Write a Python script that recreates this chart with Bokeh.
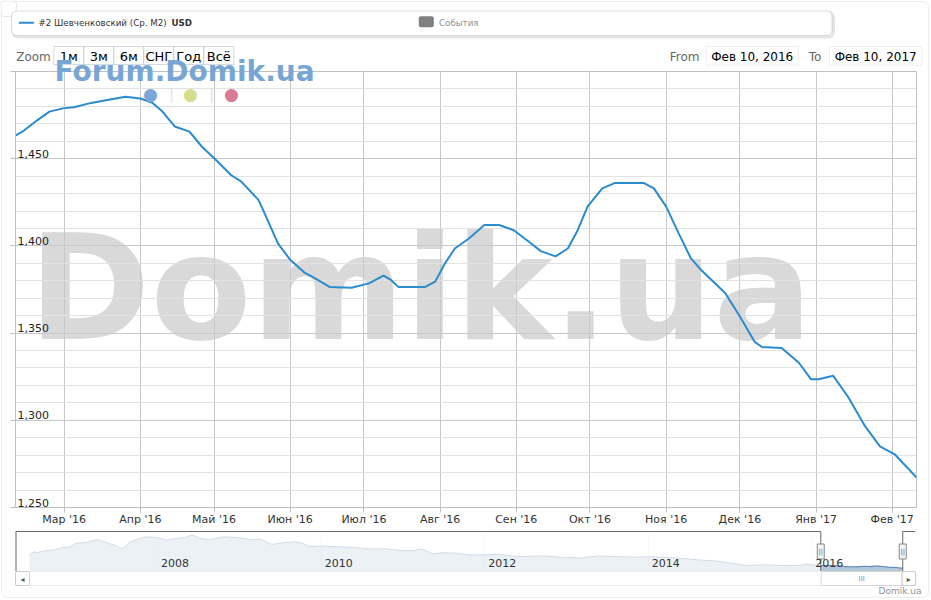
import pandas as pd
from bokeh.plotting import figure
from bokeh.layouts import column
from bokeh.models import (Range1d, FixedTicker, SingleIntervalTicker, CustomJSTickFormatter,
                          Label, LabelSet, ColumnDataSource, BoxAnnotation, Grid, LinearAxis)
from bokeh.core.properties import value
from bokeh.embed import file_html
from bokeh.resources import INLINE

FONT = "DejaVu Sans"
SERIES_COLOR = "#2a8bcf"
NAV_COLOR = "#4572A7"

# ---------------- data ----------------
SERIES_NAME = "#2 Шевченковский (Ср. М2)"
CURRENCY = "USD"
EVENTS_NAME = "События"
RANGE_BUTTONS = ["1м", "3м", "6м", "СНГ", "Год", "Всё"]
MONTHS_RU = ["Янв", "Фев", "Мар", "Апр", "Май", "Июн", "Июл", "Авг", "Сен", "Окт", "Ноя", "Дек"]
VIEW_FROM = "2016-02-10"
VIEW_TO = "2017-02-10"

MAIN_DATES = [
    "2016-02-06", "2016-02-13", "2016-02-19", "2016-02-24", "2016-03-01", "2016-03-05",
    "2016-03-12", "2016-03-18", "2016-03-26", "2016-04-01", "2016-04-06", "2016-04-10",
    "2016-04-15", "2016-04-21", "2016-04-26", "2016-05-02", "2016-05-08", "2016-05-12",
    "2016-05-19", "2016-05-21", "2016-05-27", "2016-06-01", "2016-06-07", "2016-06-11",
    "2016-06-17", "2016-06-26", "2016-07-03", "2016-07-09", "2016-07-12", "2016-07-15",
    "2016-07-26", "2016-07-30", "2016-08-03", "2016-08-07", "2016-08-13", "2016-08-19",
    "2016-08-25", "2016-08-31", "2016-09-06", "2016-09-11", "2016-09-17", "2016-09-22",
    "2016-09-26", "2016-09-30", "2016-10-06", "2016-10-11", "2016-10-23", "2016-10-27",
    "2016-11-01", "2016-11-06", "2016-11-11", "2016-11-15", "2016-11-25", "2016-12-01",
    "2016-12-07", "2016-12-10", "2016-12-18", "2016-12-25", "2016-12-30", "2017-01-02",
    "2017-01-08", "2017-01-14", "2017-01-21", "2017-01-27", "2017-02-02", "2017-02-11",
]
MAIN_VALUES = [
    1460, 1465.5, 1472, 1477, 1479, 1479.5,
    1482, 1483.5, 1485.5, 1484.5, 1482, 1477,
    1468.5, 1465.5, 1457, 1449, 1440.5, 1437,
    1426.5, 1420.5, 1401.5, 1392, 1384.5, 1381.5,
    1376.5, 1376, 1378.5, 1383, 1380.5, 1376.5,
    1376.5, 1379.5, 1390, 1398.5, 1404.5, 1412,
    1412, 1409, 1402.5, 1397, 1394, 1398.5,
    1409, 1422.5, 1433, 1436, 1436, 1433,
    1422.5, 1407.5, 1393, 1386.5, 1373, 1359.5,
    1345, 1342, 1341.5, 1333, 1323.5, 1323.5,
    1325.5, 1313.5, 1296.5, 1285, 1280.5, 1267,
]

HIST_DATES = [
    "2006-06-08", "2006-06-16", "2006-06-27", "2006-07-12", "2006-08-10", "2006-09-24",
    "2006-11-07", "2006-11-29", "2006-12-31", "2007-02-20", "2007-04-08", "2007-05-20",
    "2007-07-03", "2007-07-28", "2007-09-01", "2007-10-01", "2007-11-07", "2007-12-29",
    "2008-02-12", "2008-03-28", "2008-05-04", "2008-06-03", "2008-07-09", "2008-08-23",
    "2008-10-22", "2008-12-20", "2009-02-18", "2009-04-04", "2009-05-26", "2009-07-16",
    "2009-09-06", "2009-10-13", "2009-11-12", "2009-12-27", "2010-03-11", "2010-05-24",
    "2010-08-06", "2010-10-20", "2011-01-02", "2011-02-16", "2011-03-25", "2011-05-16",
    "2011-06-29", "2011-08-28", "2011-10-26", "2011-12-17", "2012-03-01", "2012-05-29",
    "2012-09-25", "2012-12-24", "2013-03-08", "2013-05-21", "2013-08-03", "2013-11-15",
    "2014-01-14", "2014-03-14", "2014-05-28", "2014-08-10", "2014-10-23", "2015-01-05",
    "2015-03-20", "2015-06-03", "2015-08-16", "2015-10-29", "2015-12-13",
]
HIST_VALUES = [
    2244, 2449, 2583, 2504, 2638, 2717,
    2922, 2898, 3237, 3316, 3552, 3292,
    3032, 2796, 3371, 3552, 3765, 3710,
    3505, 3631, 3710, 3923, 3631, 3552,
    3765, 3710, 3552, 3584, 3158, 3292,
    3371, 3237, 2977, 3032, 2977, 2922,
    2796, 2796, 2662, 2662, 2796, 2402,
    2504, 2449, 2323, 2323, 2370, 2189,
    2244, 2110, 2087, 2244, 2189, 2134,
    2189, 2134, 2055, 1929, 1850, 1661,
    1480, 1535, 1480, 1480, 1582,
]

MONTH_TICKS = ["2016-03-01", "2016-04-01", "2016-05-01", "2016-06-01", "2016-07-01",
               "2016-08-01", "2016-09-01", "2016-10-01", "2016-11-01", "2016-12-01",
               "2017-01-01", "2017-02-01"]
Y_LABEL_VALUES = [1250, 1300, 1350, 1400, 1450]
NAV_YEARS = ["2008-01-01", "2010-01-01", "2012-01-01", "2014-01-01", "2016-01-01"]

MAIN_X_START, MAIN_X_END = "2016-02-10 05:00", "2017-02-10 21:00"
MAIN_Y_START, MAIN_Y_END = 1250, 1500
NAV_X_START, NAV_X_END = "2006-04-07", "2017-04-08"

W = 931          # page width
OVL_H = 598      # overlay height
MAIN_TOP = 71    # top of the main plot area


def ts(s):
    return pd.Timestamp(s)


def ms(s):
    return int(pd.Timestamp(s).value // 10**6)


def fmt_day(s):
    d = pd.Timestamp(s)
    return f"{MONTHS_RU[d.month - 1]} {d.day}, {d.year}"


def bare(p):
    p.grid.visible = False
    p.frame_align = False
    return p


def lab(p, x, y, text, size, color, align="left", bold=False, **kw):
    p.add_layout(Label(x=x, y=y, text=text, text_align=align, text_baseline="middle",
                       text_font=FONT, text_font_size=size, text_color=color,
                       text_font_style="bold" if bold else "normal", **kw))


def box(p, l, r, t, b, fill="white", line="#909090", radius=0, **kw):
    p.add_layout(BoxAnnotation(left=l, right=r, top=t, bottom=b, fill_color=fill,
                               fill_alpha=1 if fill else 0, line_color=line,
                               border_radius=radius, **kw))


# ---------------- transparent overlay: frame, legend, selectors, logo, scrollbar ----------------
ovl = bare(figure(width=W, height=OVL_H, x_range=Range1d(0, W), y_range=Range1d(OVL_H, 0),
                  min_border=0, toolbar_location=None, output_backend="svg",
                  x_axis_location=None, y_axis_location=None, outline_line_color=None,
                  background_fill_color=None, border_fill_color=None,
                  styles={"z-index": "5", "position": "relative"}))

# outer chart frame and corner square
box(ovl, 1, 928, 1, 597, fill=None, line="#c4c4c4", radius=6)
box(ovl, 0.5, 16, 0.5, 16, line="#b4b4b4", radius=3)

# legend
box(ovl, 12.5, 833, 12, 36.5, fill=None, line="black", radius=5, line_alpha=0.10, line_width=3)
box(ovl, 11, 831.5, 10.5, 35, line="#909090", radius=5)
box(ovl, 18.3, 33.3, 21.3, 23.3, fill=SERIES_COLOR, line=None)
lab(ovl, 38, 22.5, SERIES_NAME, "8.7px", "#333333")
lab(ovl, 171, 22.5, CURRENCY, "8.7px", "#333333", bold=True)
box(ovl, 418.3, 433.3, 15.7, 26.7, fill="#808080", line=None, radius=2)
lab(ovl, 438.5, 22.5, EVENTS_NAME, "8.7px", "#909090")

# range selector
lab(ovl, 15.7, 56.5, "Zoom", "12px", "#666666")
for i, b in enumerate(RANGE_BUTTONS):
    left = 53.3 + 30 * i
    box(ovl, left, left + 30, 46, 64, line="#6a86a8")
    lab(ovl, left + 15, 55.5, b, "13px", "#000000", align="center")

lab(ovl, 669.3, 56.5, "From", "12px", "#666666")
lab(ovl, 808.3, 56.5, "To", "12px", "#666666")
for left, right, day in [(705.7, 797.7, VIEW_FROM), (829.0, 921.3, VIEW_TO)]:
    box(ovl, left, right, 46, 64.7, line="#c8c8c8")
    lab(ovl, (left + right) / 2, 56, fmt_day(day), "12px", "#000000", align="center")

# forum logo
lab(ovl, 54, 70.8, "Forum.Domik.ua", "28px", "#78a6d4", bold=True)
for x, col in [(150, "#7aa8d6"), (190, "#d6dc8a"), (231, "#d87b97")]:
    lab(ovl, x, 93, "●", "17px", col, align="center")
for x in (171, 211):
    lab(ovl, x, 93, "|", "14px", "#e0e0e0", align="center")

# scrollbar
box(ovl, 15, 915, 571, 585, line="#c0c0c0")
box(ovl, 820.7, 901.7, 571, 585, line="#888888", radius=2)
lab(ovl, 861.2, 578.5, "III", "7px", "#888888", align="center")
for left, right, arrow in [(15, 29, "◂"), (901.7, 915, "▸")]:
    box(ovl, left, right, 571, 585, line="#666666", radius=2)
    lab(ovl, (left + right) / 2, 578.5, arrow, "8px", "#555555", align="center")
lab(ovl, 921, 590.5, "Domik.ua", "9px", "#909090", align="right")

# ---------------- main chart ----------------
main = figure(width=W, height=457, x_axis_type="datetime",
              x_range=Range1d(ts(MAIN_X_START), ts(MAIN_X_END)),
              y_range=Range1d(MAIN_Y_START, MAIN_Y_END),
              min_border_left=15, min_border_right=15, min_border_top=0, min_border_bottom=20,
              y_axis_location=None,
              toolbar_location=None, output_backend="svg",
              background_fill_color="white", border_fill_color="white",
              outline_line_color="#c0c0c0", margin=(-(OVL_H - MAIN_TOP), 0, 0, 0))
main.frame_align = False

month_ticker = FixedTicker(ticks=[ms(m) for m in MONTH_TICKS])
value_ticker = SingleIntervalTicker(interval=50, num_minor_ticks=5)

xa = main.xaxis[0]
xa.ticker = month_ticker
xa.formatter = CustomJSTickFormatter(args=dict(names=MONTHS_RU), code="""
const d = new Date(tick);
return names[d.getUTCMonth()] + " '" + String(d.getUTCFullYear()).slice(2);
""")
xa.major_label_text_font = FONT
xa.major_label_text_font_size = "11px"
xa.major_label_text_color = "#333333"
xa.major_label_standoff = 0
xa.major_tick_out = 5
xa.major_tick_in = 0
xa.minor_tick_out = 0
xa.minor_tick_in = 0
xa.axis_line_color = "#c0c0c0"
xa.major_tick_line_color = "#c0c0c0"

# left axis: line and outward tick marks only (values are printed inside the plot)
ya = LinearAxis(ticker=value_ticker,
                formatter=CustomJSTickFormatter(code="return ''"),
                major_label_text_color=None, major_label_standoff=0,
                major_tick_out=5, major_tick_in=0, minor_tick_out=0, minor_tick_in=0,
                axis_line_color="#c0c0c0", major_tick_line_color="#c0c0c0")
main.add_layout(ya, "left")

main.grid.visible = False
main.add_layout(Grid(dimension=0, ticker=month_ticker, grid_line_color="#c8c8c8"))
main.add_layout(Grid(dimension=1, ticker=value_ticker,
                     grid_line_color="#c8c8c8", minor_grid_line_color="#e2e2e2"))

# watermark (under the grid)
main.add_layout(Label(x=13, y=219, x_units="screen", y_units="screen", text="Domik.ua",
                      text_font=FONT, text_font_size="147px", text_font_style="bold",
                      text_baseline="middle", text_color="#d9d9d9", level="image"))

main.line(x=pd.to_datetime(MAIN_DATES), y=MAIN_VALUES, line_width=2, line_color=SERIES_COLOR)

ylab = ColumnDataSource(dict(y=Y_LABEL_VALUES, text=[f"{v:,}" for v in Y_LABEL_VALUES]))
main.add_layout(LabelSet(x=2, x_units="screen", y="y", text="text", source=ylab, y_offset=1,
                         text_font=value(FONT), text_font_size="11px", text_color="#222222",
                         text_baseline="alphabetic"))

# ---------------- navigator ----------------
nav_dates = pd.to_datetime(HIST_DATES + MAIN_DATES)
nav_vals = HIST_VALUES + MAIN_VALUES
vmin, vmax = min(nav_vals), max(nav_vals)
pad = 0.1 * (vmax - vmin)
lo, hi = vmin - pad, vmax + pad
top = hi + (hi - lo) * 2 / 40

nav = bare(figure(width=W, height=43, x_axis_type="datetime",
                  x_range=Range1d(ts(NAV_X_START), ts(NAV_X_END)), y_range=Range1d(lo, top),
                  min_border_left=15, min_border_right=16, min_border_top=1, min_border_bottom=0,
                  toolbar_location=None, output_backend="svg",
                  x_axis_location=None, y_axis_location=None, outline_line_color=None,
                  background_fill_color="white", border_fill_color="white"))

yr = pd.to_datetime(NAV_YEARS)
nav.segment(x0=yr, x1=yr, y0=lo, y1=hi, line_color="#e6e6e6", line_width=1)
nav.varea(x=nav_dates, y1=lo, y2=nav_vals, fill_color=NAV_COLOR, fill_alpha=0.4)
nav.line(x=nav_dates, y=nav_vals, line_color=NAV_COLOR, line_width=1)
sel0, sel1 = ts(VIEW_FROM), ts(VIEW_TO)
nav.quad(left=[ts(NAV_X_START), sel1], right=[sel0, ts(NAV_X_END)], bottom=lo, top=hi,
         fill_color="white", fill_alpha=0.75, line_color=None)
yl = ColumnDataSource(dict(x=yr, text=[str(d.year) for d in yr]))
nav.add_layout(LabelSet(x="x", y=4.5, y_units="screen", text="text", source=yl, x_offset=3.5,
                        text_font=value(FONT), text_font_size="11px", text_color="#333333",
                        text_baseline="alphabetic"))
OUTLINE = "#666666"
nav.line(x=[ts(NAV_X_START), sel0, sel0], y=[hi, hi, lo], line_color=OUTLINE, line_width=1)
nav.line(x=[sel1, sel1, ts(NAV_X_END)], y=[lo, hi, hi], line_color=OUTLINE, line_width=1)
nav.line(x=[ts(NAV_X_START), ts(NAV_X_START)], y=[lo, hi], line_color=OUTLINE, line_width=2)
mid = (lo + hi) / 2
nav.rect(x=[sel0, sel1], y=[mid, mid], width=7, height=15, width_units="screen",
         height_units="screen", fill_color="#f4f4f4", line_color="#888888")
nav.text(x=[sel0, sel1], y=[mid, mid], text=["||", "||"], text_align="center",
         text_baseline="middle", text_font=value(FONT), text_font_size="7px", text_color="#666666")

layout = column(ovl, main, nav, spacing=0)
open("out.html", "w").write(file_html(layout, INLINE))
